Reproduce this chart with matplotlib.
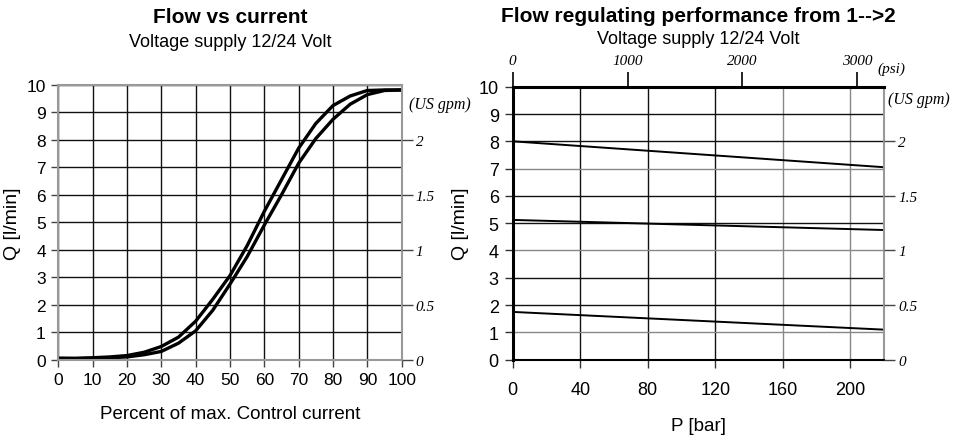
import matplotlib
matplotlib.use("Agg")
import matplotlib.pyplot as plt
import numpy as np

plt.rcParams['font.family'] = ['Liberation Sans', 'DejaVu Sans']

# datos grafico izquierdo: caudal vs corriente
pct = [0, 5, 10, 15, 20, 25, 30, 35, 40, 45, 50, 55, 60, 65, 70, 75, 80, 85, 90, 95, 100]
q_upper = [0.05, 0.05, 0.07, 0.1, 0.15, 0.27, 0.48, 0.82, 1.4, 2.2, 3.06, 4.15, 5.4, 6.55, 7.7, 8.6, 9.25, 9.6, 9.8, 9.82, 9.82]
q_lower = [0.05, 0.04, 0.05, 0.07, 0.1, 0.18, 0.3, 0.6, 1.05, 1.8, 2.75, 3.75, 4.9, 6.0, 7.15, 8.05, 8.75, 9.3, 9.65, 9.8, 9.82]

# datos grafico derecho: caudal vs presion
p_bar = [0, 220]
q_high = [8.0, 7.05]
q_mid = [5.12, 4.75]
q_low = [1.75, 1.1]

gpm_pos = [0, 2, 4, 6, 8]
gpm_lab = ['0', '0.5', '1', '1.5', '2']
psi_ticks = [0, 1000, 2000, 3000]

serif_it = dict(family='Liberation Serif', style='italic', size=11)

fig = plt.figure(figsize=(9.57, 4.39), dpi=100)

# ---------------- izquierdo ----------------
ax1 = fig.add_axes([0.0609, 0.1784, 0.3588, 0.6257])
ax1.plot(pct, q_upper, color='black', linewidth=2.4, solid_joinstyle='round')
ax1.plot(pct, q_lower, color='black', linewidth=2.4, solid_joinstyle='round')
ax1.set_xlim(0, 100)
ax1.set_ylim(0, 10)
ax1.set_xticks(range(0, 101, 10))
ax1.set_yticks(range(0, 11))
ax1.grid(True, color='#111111', linewidth=1)
for s in ax1.spines.values():
    s.set_color('#999999')
    s.set_linewidth(1.5)
ax1.tick_params(axis='both', direction='out', length=5, width=1, color='#444444',
                labelsize=12.5, pad=4)
ax1.set_xlabel('Percent of max. Control current', fontsize=13.5, labelpad=13)
ax1.set_ylabel('Q [l/min]', fontsize=14, labelpad=4)

ax1r = ax1.twinx()
ax1r.set_ylim(0, 10)
ax1r.set_yticks(gpm_pos)
ax1r.set_yticklabels(gpm_lab, **serif_it)
ax1r.tick_params(axis='y', direction='out', length=8, width=1, color='#444444', pad=2)
for s in ax1r.spines.values():
    s.set_visible(False)
ax1r.text(1.02, 0.93, '(US gpm)', transform=ax1.transAxes, ha='left', va='center',
          family='Liberation Serif', style='italic', size=11.5)

ax1.text(0.5, 1.251, 'Flow vs current', transform=ax1.transAxes, ha='center', va='center',
         fontsize=15, fontweight='bold')
ax1.text(0.5, 1.160, 'Voltage supply 12/24 Volt', transform=ax1.transAxes, ha='center',
         va='center', fontsize=13)

# ---------------- derecho ----------------
ax2 = fig.add_axes([0.5357, 0.1784, 0.3883, 0.6218])
ax2.plot(p_bar, q_high, color='black', linewidth=1.4)
ax2.plot(p_bar, q_mid, color='black', linewidth=1.4)
ax2.plot(p_bar, q_low, color='black', linewidth=1.4)
ax2.set_xlim(0, 220)
ax2.set_ylim(0, 10)
ax2.set_xticks(range(0, 201, 40))
ax2.set_yticks(range(0, 11))
ax2.grid(True, color='#111111', linewidth=1)
for v, gl in zip(ax2.get_yticks(), ax2.get_ygridlines()):
    if v in (1, 4, 7):
        gl.set_color('#888888')
for v, gl in zip(ax2.get_xticks(), ax2.get_xgridlines()):
    if v in (160, 200):
        gl.set_color('#888888')
ax2.spines['left'].set_linewidth(2.2)
ax2.spines['top'].set_linewidth(2.2)
ax2.spines['bottom'].set_linewidth(1.5)
ax2.spines['right'].set_color('#999999')
ax2.spines['right'].set_linewidth(1.5)
ax2.tick_params(axis='both', direction='out', length=6, width=1, color='#333333',
                labelsize=13, pad=4)
ax2.tick_params(axis='x', pad=9)
ax2.set_xlabel('P [bar]', fontsize=13.5, labelpad=14)
ax2.set_ylabel('Q [l/min]', fontsize=14, labelpad=7)

ax2r = ax2.twinx()
ax2r.set_ylim(0, 10)
ax2r.set_yticks(gpm_pos)
ax2r.set_yticklabels(gpm_lab, **serif_it)
ax2r.tick_params(axis='y', direction='out', length=8, width=1, color='#444444', pad=2)
for s in ax2r.spines.values():
    s.set_visible(False)
ax2r.text(1.01, 0.955, '(US gpm)', transform=ax2.transAxes, ha='left', va='center',
          family='Liberation Serif', style='italic', size=11.5)

psi = ax2.secondary_xaxis('top', functions=(lambda b: b * 14.7, lambda p: p / 14.7))
psi.set_xticks(psi_ticks)
psi.set_xticklabels([str(t) for t in psi_ticks], **serif_it)
psi.tick_params(axis='x', direction='out', length=11, width=1.2, color='black', pad=3)
psi.spines['top'].set_visible(False)
ax2.text(0.982, 1.068, '(psi)', transform=ax2.transAxes, ha='left', va='center', **serif_it)

ax2.text(0.5, 1.26, 'Flow regulating performance from 1-->2', transform=ax2.transAxes,
         ha='center', va='center', fontsize=15, fontweight='bold')
ax2.text(0.5, 1.175, 'Voltage supply 12/24 Volt', transform=ax2.transAxes, ha='center',
         va='center', fontsize=13)

fig.savefig('out.png', dpi=100)
